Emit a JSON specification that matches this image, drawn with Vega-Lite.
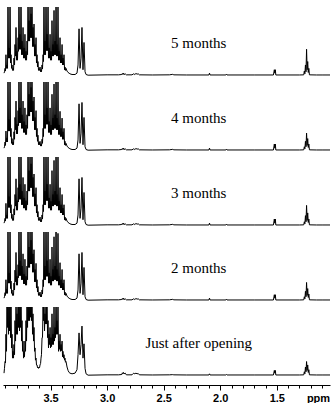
{
  "$schema": "https://vega.github.io/schema/vega-lite/v6.json",
  "padding": {"left": 3, "top": 7, "right": 6, "bottom": 0},
  "background": "white",
  "config": {"view": {"stroke": null}, "concat": {"spacing": 0}},
  "spacing": 0,
  "data": {"values": [
    {"p":3.911,"a":0.03,"b":0.03,"c":0.03,"d":0.03,"e":0.03},
    {"p":3.907,"a":0.05,"b":0.05,"c":0.05,"d":0.05,"e":0.1},
    {"p":3.902,"a":0.1,"b":0.12,"c":0.1,"d":0.11,"e":0.2},
    {"p":3.898,"a":0.06,"b":0.07,"c":0.06,"d":0.07,"e":0.18},
    {"p":3.894,"a":0.3,"b":0.28,"c":0.32,"d":0.3,"e":0.6},
    {"p":3.889,"a":0.1,"b":0.12,"c":0.1,"d":0.1,"e":0.35},
    {"p":3.885,"a":0.15,"b":0.18,"c":0.15,"d":0.16,"e":1.2},
    {"p":3.880,"a":0.1,"b":0.12,"c":0.1,"d":0.1,"e":0.7},
    {"p":3.876,"a":1.3,"b":1.3,"c":1.3,"d":1.3,"e":1.3},
    {"p":3.871,"a":0.25,"b":0.28,"c":0.26,"d":0.25,"e":0.6},
    {"p":3.867,"a":0.4,"b":0.45,"c":0.42,"d":0.4,"e":1.1},
    {"p":3.862,"a":0.25,"b":0.28,"c":0.26,"d":0.25,"e":0.65},
    {"p":3.858,"a":1.3,"b":1.3,"c":1.3,"d":1.3,"e":1.3},
    {"p":3.853,"a":0.18,"b":0.2,"c":0.18,"d":0.17,"e":0.55},
    {"p":3.849,"a":0.3,"b":0.32,"c":0.3,"d":0.28,"e":1.0},
    {"p":3.844,"a":0.1,"b":0.1,"c":0.1,"d":0.1,"e":0.4},
    {"p":3.840,"a":0.15,"b":0.17,"c":0.16,"d":0.15,"e":0.6},
    {"p":3.836,"a":0.07,"b":0.08,"c":0.07,"d":0.07,"e":0.25},
    {"p":3.832,"a":0.1,"b":0.12,"c":0.1,"d":0.1,"e":0.35},
    {"p":3.827,"a":0.07,"b":0.08,"c":0.07,"d":0.07,"e":0.25},
    {"p":3.823,"a":0.25,"b":0.27,"c":0.24,"d":0.25,"e":0.45},
    {"p":3.818,"a":0.15,"b":0.16,"c":0.15,"d":0.15,"e":0.3},
    {"p":3.814,"a":0.45,"b":0.48,"c":0.45,"d":0.44,"e":0.8},
    {"p":3.809,"a":0.28,"b":0.3,"c":0.28,"d":0.27,"e":0.5},
    {"p":3.805,"a":0.7,"b":0.72,"c":0.68,"d":0.7,"e":1.2},
    {"p":3.800,"a":0.22,"b":0.24,"c":0.22,"d":0.22,"e":0.6},
    {"p":3.796,"a":0.35,"b":0.38,"c":0.36,"d":0.35,"e":0.9},
    {"p":3.792,"a":0.22,"b":0.24,"c":0.22,"d":0.22,"e":0.6},
    {"p":3.787,"a":0.55,"b":0.58,"c":0.55,"d":0.52,"e":1.2},
    {"p":3.783,"a":0.35,"b":0.36,"c":0.34,"d":0.33,"e":0.7},
    {"p":3.779,"a":1.3,"b":1.3,"c":1.3,"d":1.3,"e":1.3},
    {"p":3.774,"a":0.38,"b":0.4,"c":0.38,"d":0.36,"e":0.65},
    {"p":3.770,"a":0.6,"b":0.62,"c":0.6,"d":0.58,"e":1.1},
    {"p":3.765,"a":0.38,"b":0.4,"c":0.38,"d":0.36,"e":0.7},
    {"p":3.761,"a":1.3,"b":1.3,"c":1.3,"d":1.3,"e":1.3},
    {"p":3.756,"a":0.3,"b":0.32,"c":0.3,"d":0.3,"e":0.5},
    {"p":3.752,"a":0.5,"b":0.52,"c":0.5,"d":0.5,"e":0.8},
    {"p":3.747,"a":0.3,"b":0.32,"c":0.3,"d":0.3,"e":0.35},
    {"p":3.743,"a":0.7,"b":0.72,"c":0.7,"d":0.68,"e":0.5},
    {"p":3.738,"a":0.25,"b":0.26,"c":0.25,"d":0.24,"e":0.25},
    {"p":3.734,"a":0.4,"b":0.42,"c":0.4,"d":0.38,"e":0.35},
    {"p":3.730,"a":0.25,"b":0.26,"c":0.25,"d":0.24,"e":0.27},
    {"p":3.726,"a":0.6,"b":0.62,"c":0.6,"d":0.6,"e":0.5},
    {"p":3.721,"a":0.22,"b":0.23,"c":0.22,"d":0.22,"e":0.35},
    {"p":3.717,"a":0.35,"b":0.37,"c":0.36,"d":0.35,"e":0.8},
    {"p":3.712,"a":0.22,"b":0.23,"c":0.22,"d":0.22,"e":0.5},
    {"p":3.708,"a":0.5,"b":0.52,"c":0.5,"d":0.5,"e":1.1},
    {"p":3.703,"a":0.3,"b":0.32,"c":0.3,"d":0.3,"e":0.7},
    {"p":3.699,"a":1.3,"b":1.3,"c":1.3,"d":1.3,"e":1.3},
    {"p":3.694,"a":0.5,"b":0.5,"c":0.5,"d":0.48,"e":0.8},
    {"p":3.690,"a":0.8,"b":0.82,"c":0.8,"d":0.78,"e":1.2},
    {"p":3.685,"a":0.5,"b":0.5,"c":0.5,"d":0.48,"e":0.8},
    {"p":3.681,"a":1.3,"b":1.3,"c":1.3,"d":1.3,"e":1.3},
    {"p":3.677,"a":0.55,"b":0.56,"c":0.55,"d":0.53,"e":0.85},
    {"p":3.672,"a":0.9,"b":0.92,"c":0.9,"d":0.88,"e":1.3},
    {"p":3.668,"a":0.55,"b":0.56,"c":0.55,"d":0.53,"e":0.8},
    {"p":3.664,"a":1.3,"b":1.3,"c":1.3,"d":1.3,"e":1.2},
    {"p":3.659,"a":0.42,"b":0.43,"c":0.42,"d":0.41,"e":0.6},
    {"p":3.655,"a":0.7,"b":0.72,"c":0.7,"d":0.68,"e":0.9},
    {"p":3.650,"a":0.42,"b":0.43,"c":0.42,"d":0.41,"e":0.5},
    {"p":3.646,"a":0.75,"b":0.78,"c":0.75,"d":0.74,"e":0.7},
    {"p":3.641,"a":0.28,"b":0.3,"c":0.28,"d":0.27,"e":0.35},
    {"p":3.637,"a":0.45,"b":0.48,"c":0.46,"d":0.45,"e":0.4},
    {"p":3.633,"a":0.28,"b":0.3,"c":0.28,"d":0.27,"e":0.22},
    {"p":3.628,"a":0.55,"b":0.58,"c":0.55,"d":0.54,"e":0.25},
    {"p":3.624,"a":0.18,"b":0.2,"c":0.18,"d":0.18,"e":0.15},
    {"p":3.619,"a":0.3,"b":0.32,"c":0.3,"d":0.3,"e":0.15},
    {"p":3.615,"a":0.12,"b":0.13,"c":0.12,"d":0.12,"e":0.11},
    {"p":3.611,"a":0.2,"b":0.22,"c":0.2,"d":0.2,"e":0.12},
    {"p":3.606,"a":0.07,"b":0.08,"c":0.07,"d":0.07,"e":0.1},
    {"p":3.602,"a":0.1,"b":0.12,"c":0.1,"d":0.1,"e":0.12},
    {"p":3.597,"a":0.07,"b":0.08,"c":0.07,"d":0.07,"e":0.11},
    {"p":3.593,"a":0.12,"b":0.13,"c":0.12,"d":0.12,"e":0.15},
    {"p":3.588,"a":0.05,"b":0.06,"c":0.05,"d":0.05,"e":0.17},
    {"p":3.584,"a":0.08,"b":0.09,"c":0.08,"d":0.08,"e":0.25},
    {"p":3.580,"a":0.05,"b":0.06,"c":0.05,"d":0.05,"e":0.3},
    {"p":3.575,"a":0.15,"b":0.16,"c":0.15,"d":0.15,"e":0.55},
    {"p":3.571,"a":0.09,"b":0.1,"c":0.09,"d":0.09,"e":0.55},
    {"p":3.566,"a":0.3,"b":0.32,"c":0.3,"d":0.3,"e":1.0},
    {"p":3.562,"a":0.2,"b":0.2,"c":0.2,"d":0.2,"e":0.8},
    {"p":3.558,"a":1.3,"b":1.3,"c":1.3,"d":1.3,"e":1.3},
    {"p":3.553,"a":0.3,"b":0.32,"c":0.3,"d":0.3,"e":0.65},
    {"p":3.549,"a":0.5,"b":0.52,"c":0.5,"d":0.5,"e":0.9},
    {"p":3.544,"a":0.3,"b":0.32,"c":0.3,"d":0.3,"e":0.75},
    {"p":3.540,"a":1.3,"b":1.3,"c":1.3,"d":1.3,"e":1.3},
    {"p":3.535,"a":0.36,"b":0.38,"c":0.36,"d":0.35,"e":0.75},
    {"p":3.531,"a":0.6,"b":0.62,"c":0.6,"d":0.58,"e":1.1},
    {"p":3.526,"a":0.36,"b":0.38,"c":0.36,"d":0.35,"e":0.55},
    {"p":3.522,"a":1.2,"b":1.25,"c":1.2,"d":1.18,"e":0.8},
    {"p":3.518,"a":0.25,"b":0.26,"c":0.25,"d":0.25,"e":0.4},
    {"p":3.513,"a":0.4,"b":0.42,"c":0.4,"d":0.4,"e":0.6},
    {"p":3.509,"a":0.25,"b":0.26,"c":0.25,"d":0.25,"e":0.45},
    {"p":3.504,"a":0.6,"b":0.62,"c":0.6,"d":0.6,"e":0.7},
    {"p":3.500,"a":0.22,"b":0.23,"c":0.22,"d":0.22,"e":0.4},
    {"p":3.496,"a":0.35,"b":0.37,"c":0.35,"d":0.35,"e":0.55},
    {"p":3.491,"a":0.22,"b":0.23,"c":0.22,"d":0.22,"e":0.42},
    {"p":3.487,"a":0.8,"b":0.82,"c":0.8,"d":0.78,"e":0.9},
    {"p":3.482,"a":0.28,"b":0.3,"c":0.28,"d":0.28,"e":0.45},
    {"p":3.478,"a":0.45,"b":0.47,"c":0.45,"d":0.45,"e":0.6},
    {"p":3.474,"a":0.28,"b":0.3,"c":0.28,"d":0.28,"e":0.45},
    {"p":3.469,"a":0.95,"b":0.97,"c":0.95,"d":0.93,"e":1.0},
    {"p":3.465,"a":0.3,"b":0.32,"c":0.3,"d":0.3,"e":0.5},
    {"p":3.460,"a":0.5,"b":0.52,"c":0.5,"d":0.5,"e":0.7},
    {"p":3.456,"a":0.3,"b":0.32,"c":0.3,"d":0.3,"e":0.55},
    {"p":3.451,"a":1.3,"b":1.3,"c":1.3,"d":1.3,"e":1.3},
    {"p":3.447,"a":0.28,"b":0.3,"c":0.28,"d":0.28,"e":0.6},
    {"p":3.443,"a":0.45,"b":0.47,"c":0.45,"d":0.45,"e":0.8},
    {"p":3.438,"a":0.28,"b":0.3,"c":0.28,"d":0.28,"e":0.6},
    {"p":3.434,"a":1.0,"b":1.02,"c":1.0,"d":0.98,"e":1.0},
    {"p":3.429,"a":0.22,"b":0.23,"c":0.22,"d":0.22,"e":0.35},
    {"p":3.425,"a":0.35,"b":0.37,"c":0.35,"d":0.35,"e":0.5},
    {"p":3.421,"a":0.22,"b":0.23,"c":0.22,"d":0.22,"e":0.38},
    {"p":3.416,"a":0.55,"b":0.57,"c":0.55,"d":0.55,"e":0.6},
    {"p":3.412,"a":0.18,"b":0.2,"c":0.18,"d":0.18,"e":0.35},
    {"p":3.407,"a":0.3,"b":0.32,"c":0.3,"d":0.3,"e":0.45},
    {"p":3.403,"a":0.18,"b":0.2,"c":0.18,"d":0.18,"e":0.36},
    {"p":3.398,"a":0.45,"b":0.47,"c":0.45,"d":0.45,"e":0.5},
    {"p":3.394,"a":0.15,"b":0.16,"c":0.15,"d":0.15,"e":0.27},
    {"p":3.390,"a":0.25,"b":0.27,"c":0.25,"d":0.25,"e":0.35},
    {"p":3.385,"a":0.15,"b":0.16,"c":0.15,"d":0.15,"e":0.25},
    {"p":3.381,"a":0.3,"b":0.32,"c":0.3,"d":0.3,"e":0.3},
    {"p":3.376,"a":0.08,"b":0.08,"c":0.08,"d":0.08,"e":0.22},
    {"p":3.372,"a":0.12,"b":0.13,"c":0.12,"d":0.12,"e":0.25},
    {"p":3.368,"a":0.07,"b":0.07,"c":0.07,"d":0.07,"e":0.19},
    {"p":3.363,"a":0.1,"b":0.1,"c":0.1,"d":0.1,"e":0.2},
    {"p":3.354,"a":0.06,"b":0.06,"c":0.06,"d":0.06,"e":0.12},
    {"p":3.345,"a":0.04,"b":0.04,"c":0.04,"d":0.04,"e":0.07},
    {"p":3.336,"a":0.03,"b":0.03,"c":0.03,"d":0.03,"e":0.04},
    {"p":3.328,"a":0.02,"b":0.02,"c":0.02,"d":0.02,"e":0.03},
    {"p":3.310,"a":0.01,"b":0.01,"c":0.01,"d":0.01,"e":0.02},
    {"p":3.283,"a":0.01,"b":0.01,"c":0.01,"d":0.01,"e":0.03},
    {"p":3.266,"a":0.03,"b":0.03,"c":0.03,"d":0.03,"e":0.08},
    {"p":3.257,"a":0.15,"b":0.15,"c":0.15,"d":0.15,"e":0.3},
    {"p":3.248,"a":0.68,"b":0.68,"c":0.68,"d":0.68,"e":0.62},
    {"p":3.239,"a":0.1,"b":0.1,"c":0.1,"d":0.1,"e":0.3},
    {"p":3.230,"a":0.25,"b":0.25,"c":0.25,"d":0.25,"e":0.45},
    {"p":3.222,"a":0.7,"b":0.7,"c":0.7,"d":0.7,"e":0.72},
    {"p":3.213,"a":0.08,"b":0.08,"c":0.08,"d":0.08,"e":0.25},
    {"p":3.204,"a":0.48,"b":0.48,"c":0.48,"d":0.48,"e":0.46},
    {"p":3.195,"a":0.05,"b":0.05,"c":0.05,"d":0.05,"e":0.1},
    {"p":3.186,"a":0.01,"b":0.01,"c":0.01,"d":0.01,"e":0.02},
    {"p":3.168,"a":0,"b":0,"c":0,"d":0,"e":0},
    {"p":3.0,"a":0.005,"b":0.005,"c":0.005,"d":0.005,"e":0.005},
    {"p":2.9,"a":0.005,"b":0.005,"c":0.005,"d":0.005,"e":0.005},
    {"p":2.87,"a":0.01,"b":0.01,"c":0.01,"d":0.01,"e":0.01},
    {"p":2.865,"a":0.025,"b":0.025,"c":0.025,"d":0.025,"e":0.035},
    {"p":2.86,"a":0.01,"b":0.01,"c":0.01,"d":0.01,"e":0.02},
    {"p":2.855,"a":0.03,"b":0.03,"c":0.03,"d":0.03,"e":0.04},
    {"p":2.85,"a":0.01,"b":0.01,"c":0.01,"d":0.01,"e":0.02},
    {"p":2.84,"a":0.02,"b":0.02,"c":0.02,"d":0.02,"e":0.03},
    {"p":2.83,"a":0.005,"b":0.005,"c":0.005,"d":0.005,"e":0.005},
    {"p":2.78,"a":0.005,"b":0.005,"c":0.005,"d":0.005,"e":0.005},
    {"p":2.765,"a":0.02,"b":0.02,"c":0.02,"d":0.02,"e":0.03},
    {"p":2.755,"a":0.01,"b":0.01,"c":0.01,"d":0.01,"e":0.02},
    {"p":2.745,"a":0.025,"b":0.025,"c":0.025,"d":0.025,"e":0.03},
    {"p":2.735,"a":0.015,"b":0.015,"c":0.015,"d":0.015,"e":0.02},
    {"p":2.725,"a":0.02,"b":0.02,"c":0.02,"d":0.02,"e":0.025},
    {"p":2.715,"a":0.005,"b":0.005,"c":0.005,"d":0.005,"e":0.005},
    {"p":2.6,"a":0.003,"b":0.003,"c":0.003,"d":0.003,"e":0.003},
    {"p":2.45,"a":0.005,"b":0.005,"c":0.005,"d":0.005,"e":0.005},
    {"p":2.42,"a":0.012,"b":0.012,"c":0.012,"d":0.012,"e":0.008},
    {"p":2.41,"a":0.005,"b":0.005,"c":0.005,"d":0.005,"e":0.005},
    {"p":2.3,"a":0.003,"b":0.003,"c":0.003,"d":0.003,"e":0.003},
    {"p":2.1,"a":0.003,"b":0.003,"c":0.003,"d":0.003,"e":0.003},
    {"p":2.095,"a":0.03,"b":0.03,"c":0.03,"d":0.03,"e":0.02},
    {"p":2.09,"a":0.003,"b":0.003,"c":0.003,"d":0.003,"e":0.003},
    {"p":1.95,"a":0.003,"b":0.003,"c":0.003,"d":0.003,"e":0.003},
    {"p":1.945,"a":0.015,"b":0.015,"c":0.015,"d":0.015,"e":0.01},
    {"p":1.94,"a":0.003,"b":0.003,"c":0.003,"d":0.003,"e":0.003},
    {"p":1.7,"a":0.003,"b":0.003,"c":0.003,"d":0.003,"e":0.003},
    {"p":1.53,"a":0.003,"b":0.003,"c":0.003,"d":0.003,"e":0.003},
    {"p":1.522,"a":0.08,"b":0.09,"c":0.09,"d":0.08,"e":0.07},
    {"p":1.518,"a":0.03,"b":0.03,"c":0.03,"d":0.03,"e":0.03},
    {"p":1.513,"a":0.08,"b":0.09,"c":0.09,"d":0.08,"e":0.07},
    {"p":1.509,"a":0.003,"b":0.003,"c":0.003,"d":0.003,"e":0.003},
    {"p":1.3,"a":0.003,"b":0.003,"c":0.003,"d":0.003,"e":0.003},
    {"p":1.262,"a":0.005,"b":0.005,"c":0.005,"d":0.005,"e":0.005},
    {"p":1.257,"a":0.06,"b":0.05,"c":0.05,"d":0.05,"e":0.05},
    {"p":1.252,"a":0.02,"b":0.02,"c":0.02,"d":0.02,"e":0.02},
    {"p":1.247,"a":0.15,"b":0.13,"c":0.14,"d":0.13,"e":0.12},
    {"p":1.242,"a":0.05,"b":0.05,"c":0.05,"d":0.05,"e":0.05},
    {"p":1.237,"a":0.38,"b":0.25,"c":0.29,"d":0.26,"e":0.2},
    {"p":1.232,"a":0.08,"b":0.07,"c":0.07,"d":0.07,"e":0.07},
    {"p":1.227,"a":0.2,"b":0.17,"c":0.18,"d":0.17,"e":0.15},
    {"p":1.222,"a":0.04,"b":0.04,"c":0.04,"d":0.04,"e":0.04},
    {"p":1.217,"a":0.1,"b":0.09,"c":0.09,"d":0.09,"e":0.08},
    {"p":1.212,"a":0.005,"b":0.005,"c":0.005,"d":0.005,"e":0.005},
    {"p":1.15,"a":0.003,"b":0.003,"c":0.003,"d":0.003,"e":0.003},
    {"p":1.1,"a":0.003,"b":0.003,"c":0.003,"d":0.003,"e":0.003},
    {"p":1.03,"a":0.003,"b":0.003,"c":0.003,"d":0.003,"e":0.003}
  ]},
  "vconcat": [
    {"width": 327, "height": 75, "layer": [
      {"mark": {"type": "line", "clip": true, "color": "black", "strokeWidth": 1},
       "encoding": {
         "x": {"field": "p", "type": "quantitative", "scale": {"domain": [1.03, 3.92], "reverse": true, "nice": false, "zero": false}, "axis": null},
         "y": {"field": "a", "type": "quantitative", "scale": {"domain": [-0.1, 1], "nice": false, "zero": false}, "axis": null}}},
      {"data": {"values": [{}]},
       "mark": {"type": "text", "font": "Liberation Serif", "fontSize": 15, "color": "black", "baseline": "middle", "align": "center"},
       "encoding": {"x": {"datum": 2.19, "type": "quantitative"}, "y": {"datum": 0.47, "type": "quantitative"}, "text": {"value": "5 months"}}}
    ]},
    {"width": 327, "height": 75, "layer": [
      {"mark": {"type": "line", "clip": true, "color": "black", "strokeWidth": 1},
       "encoding": {
         "x": {"field": "p", "type": "quantitative", "scale": {"domain": [1.03, 3.92], "reverse": true, "nice": false, "zero": false}, "axis": null},
         "y": {"field": "b", "type": "quantitative", "scale": {"domain": [-0.1, 1], "nice": false, "zero": false}, "axis": null}}},
      {"data": {"values": [{}]},
       "mark": {"type": "text", "font": "Liberation Serif", "fontSize": 15, "color": "black", "baseline": "middle", "align": "center"},
       "encoding": {"x": {"datum": 2.19, "type": "quantitative"}, "y": {"datum": 0.47, "type": "quantitative"}, "text": {"value": "4 months"}}}
    ]},
    {"width": 327, "height": 75, "layer": [
      {"mark": {"type": "line", "clip": true, "color": "black", "strokeWidth": 1},
       "encoding": {
         "x": {"field": "p", "type": "quantitative", "scale": {"domain": [1.03, 3.92], "reverse": true, "nice": false, "zero": false}, "axis": null},
         "y": {"field": "c", "type": "quantitative", "scale": {"domain": [-0.1, 1], "nice": false, "zero": false}, "axis": null}}},
      {"data": {"values": [{}]},
       "mark": {"type": "text", "font": "Liberation Serif", "fontSize": 15, "color": "black", "baseline": "middle", "align": "center"},
       "encoding": {"x": {"datum": 2.19, "type": "quantitative"}, "y": {"datum": 0.47, "type": "quantitative"}, "text": {"value": "3 months"}}}
    ]},
    {"width": 327, "height": 75, "layer": [
      {"mark": {"type": "line", "clip": true, "color": "black", "strokeWidth": 1},
       "encoding": {
         "x": {"field": "p", "type": "quantitative", "scale": {"domain": [1.03, 3.92], "reverse": true, "nice": false, "zero": false}, "axis": null},
         "y": {"field": "d", "type": "quantitative", "scale": {"domain": [-0.1, 1], "nice": false, "zero": false}, "axis": null}}},
      {"data": {"values": [{}]},
       "mark": {"type": "text", "font": "Liberation Serif", "fontSize": 15, "color": "black", "baseline": "middle", "align": "center"},
       "encoding": {"x": {"datum": 2.19, "type": "quantitative"}, "y": {"datum": 0.47, "type": "quantitative"}, "text": {"value": "2 months"}}}
    ]},
    {"width": 327, "height": 75, "layer": [
      {"mark": {"type": "line", "clip": true, "color": "black", "strokeWidth": 1},
       "encoding": {
         "x": {"field": "p", "type": "quantitative", "scale": {"domain": [1.03, 3.92], "reverse": true, "nice": false, "zero": false},
           "axis": {
             "values": [3.9, 3.8, 3.7, 3.6, 3.5, 3.4, 3.3, 3.2, 3.1, 3.0, 2.9, 2.8, 2.7, 2.6, 2.5, 2.4, 2.3, 2.2, 2.1, 2.0, 1.9, 1.8, 1.7, 1.6, 1.5, 1.4, 1.3, 1.2, 1.1],
             "tickCount": 40,
             "labelExpr": "abs(datum.value * 2 - round(datum.value * 2)) < 0.01 ? format(datum.value, '.1f') : ''",
             "tickSize": {"condition": {"test": "abs(datum.value * 2 - round(datum.value * 2)) < 0.01", "value": 5}, "value": 3},
             "grid": false, "offset": 3,
             "domainColor": "black", "domainWidth": 1, "tickColor": "black", "tickWidth": 1,
             "labelColor": "black", "labelFont": "Liberation Sans", "labelFontSize": 11, "labelFontWeight": "bold",
             "labelPadding": 2, "labelOverlap": false, "labelFlush": false,
             "title": "ppm", "titleX": 315, "titleY": 7, "titleBaseline": "top", "titleAlign": "center",
             "titleFont": "Liberation Sans", "titleFontSize": 11, "titleFontWeight": "bold", "titleColor": "black"
           }},
         "y": {"field": "e", "type": "quantitative", "scale": {"domain": [-0.1, 1], "nice": false, "zero": false}, "axis": null}}},
      {"data": {"values": [{}]},
       "mark": {"type": "text", "font": "Liberation Serif", "fontSize": 15, "color": "black", "baseline": "middle", "align": "center"},
       "encoding": {"x": {"datum": 2.19, "type": "quantitative"}, "y": {"datum": 0.47, "type": "quantitative"}, "text": {"value": "Just after opening"}}}
    ]}
  ]
}
